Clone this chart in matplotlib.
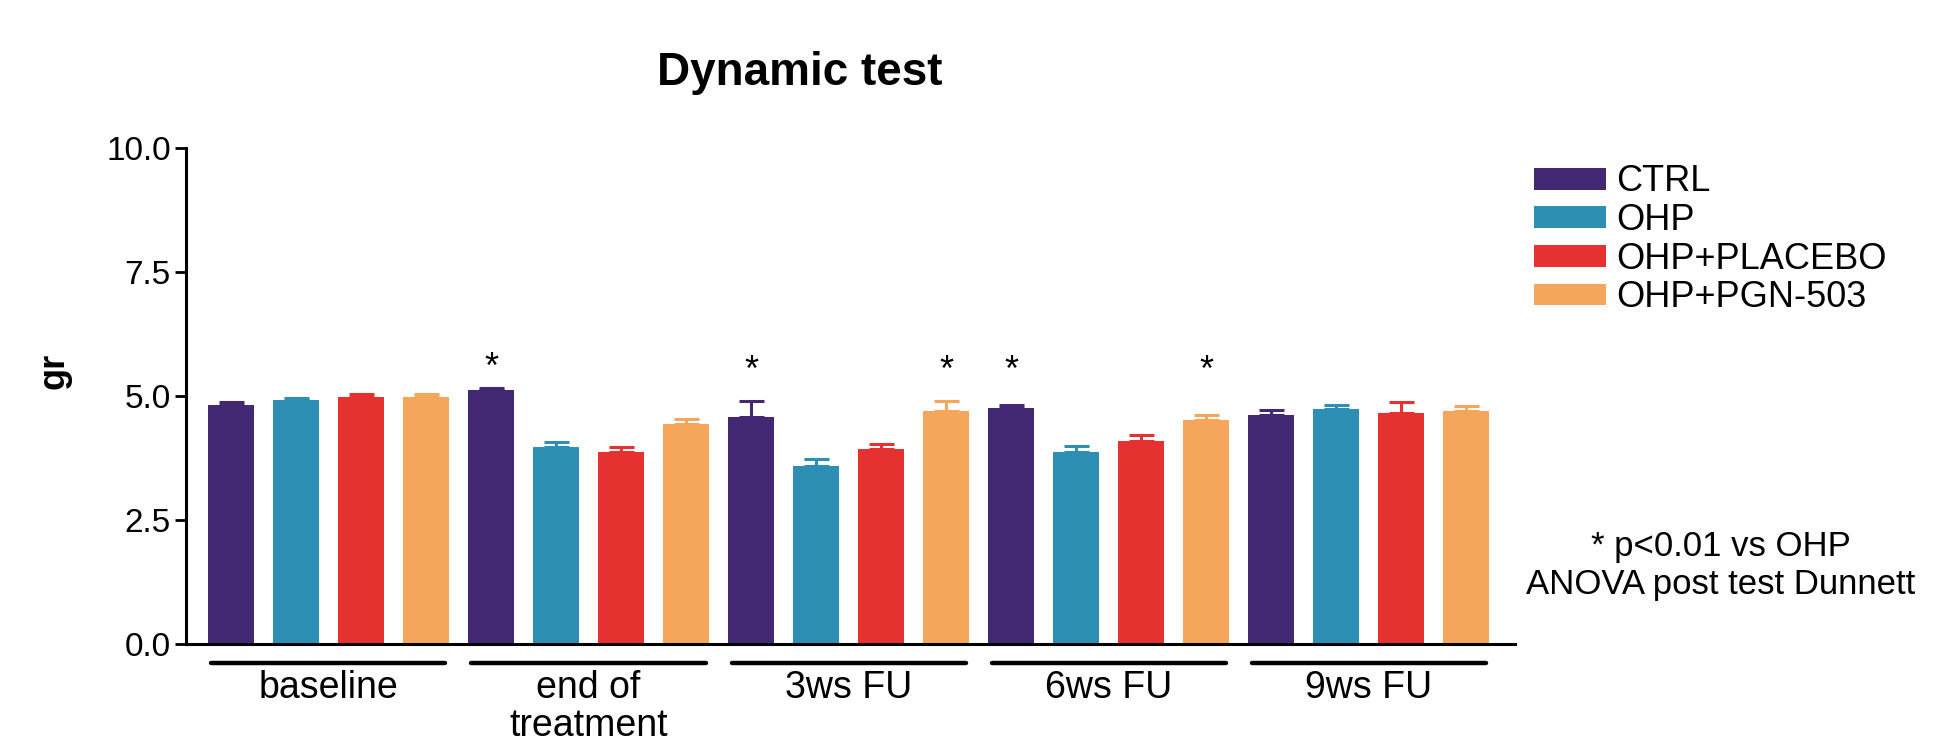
import numpy as np
import matplotlib
matplotlib.use("Agg")
import matplotlib.pyplot as plt
import matplotlib.transforms as mtransforms

plt.rcParams['font.family'] = ['Liberation Sans', 'DejaVu Sans']

# data
timepoints = ['baseline', 'end of\ntreatment', '3ws FU', '6ws FU', '9ws FU']
groups = ['CTRL', 'OHP', 'OHP+PLACEBO', 'OHP+PGN-503']
colors = ['#432874', '#2d8fb3', '#e5312f', '#f6a65a']

means = {
    'CTRL':        [4.81, 5.11, 4.57, 4.75, 4.61],
    'OHP':         [4.91, 3.96, 3.58, 3.87, 4.73],
    'OHP+PLACEBO': [4.97, 3.87, 3.93, 4.09, 4.65],
    'OHP+PGN-503': [4.97, 4.42, 4.69, 4.50, 4.69],
}
sems = {
    'CTRL':        [0.06, 0.05, 0.32, 0.06, 0.10],
    'OHP':         [0.05, 0.11, 0.14, 0.12, 0.08],
    'OHP+PLACEBO': [0.06, 0.10, 0.10, 0.12, 0.22],
    'OHP+PGN-503': [0.07, 0.10, 0.21, 0.11, 0.10],
}

# significance marks: (timepoint index, group index, height)
stars_tp = [1, 2, 2, 3, 3]
stars_grp = [0, 0, 3, 0, 3]
stars_y = [5.55, 5.49, 5.49, 5.49, 5.49]

fig = plt.figure(figsize=(19.6, 7.47), dpi=100)
ax = fig.add_axes([0.0949, 0.1382, 0.6781, 0.6643])

ng = len(groups)
width = 0.71
handles = []
for j, g in enumerate(groups):
    x = np.arange(len(timepoints)) * ng + j
    b = ax.bar(x, means[g], width, color=colors[j], label=g, zorder=2)
    ax.errorbar(x, means[g], yerr=[np.zeros(len(x)), sems[g]], fmt='none',
                ecolor=colors[j], elinewidth=2.2, capsize=9, capthick=2.2, zorder=1)
    handles.append(b)

for t, gi, yv in zip(stars_tp, stars_grp, stars_y):
    ax.text(t * ng + gi, yv, '*', ha='center', va='center', fontsize=26)

ax.set_xlim(-0.69, 19.75)
ax.set_ylim(0, 10)
ax.set_yticks([0, 2.5, 5, 7.5, 10])
ax.set_yticklabels(['0.0', '2.5', '5.0', '7.5', '10.0'])
ax.set_xticks([])
for s in ['top', 'right']:
    ax.spines[s].set_visible(False)
for s in ['left', 'bottom']:
    ax.spines[s].set_linewidth(2.2)
ax.tick_params(axis='y', labelsize=24, length=8, width=2, direction='out', pad=3)

ax.set_ylabel('gr', fontsize=26, fontweight='bold')
ax.yaxis.set_label_coords(-0.086, 0.55)

# group underlines and labels below the axis
trans = mtransforms.blended_transform_factory(ax.transData, ax.transAxes)
for i, tp in enumerate(timepoints):
    c = i * ng + 1.5
    ax.plot([c - 1.8, c + 1.8], [-0.038, -0.038], color='black', lw=3.2,
            solid_capstyle='round', transform=trans, clip_on=False)
    ax.text(c, -0.052, tp, transform=trans, ha='center', va='top',
            fontsize=27, linespacing=1.1)

fig.text(0.408, 0.902, 'Dynamic test', ha='center', va='center',
         fontsize=33, fontweight='bold')

leg = ax.legend(handles=handles, labels=groups, loc='upper left',
                bbox_to_anchor=(1.003, 0.995), frameon=False, fontsize=26,
                handlelength=2.0, handleheight=0.55, handletextpad=0.3,
                labelspacing=0.1, borderaxespad=0)

fig.text(0.878, 0.243, '* p<0.01 vs OHP\nANOVA post test Dunnett',
         ha='center', va='center', fontsize=25, linespacing=1.2)

fig.savefig('out.png', dpi=100)
